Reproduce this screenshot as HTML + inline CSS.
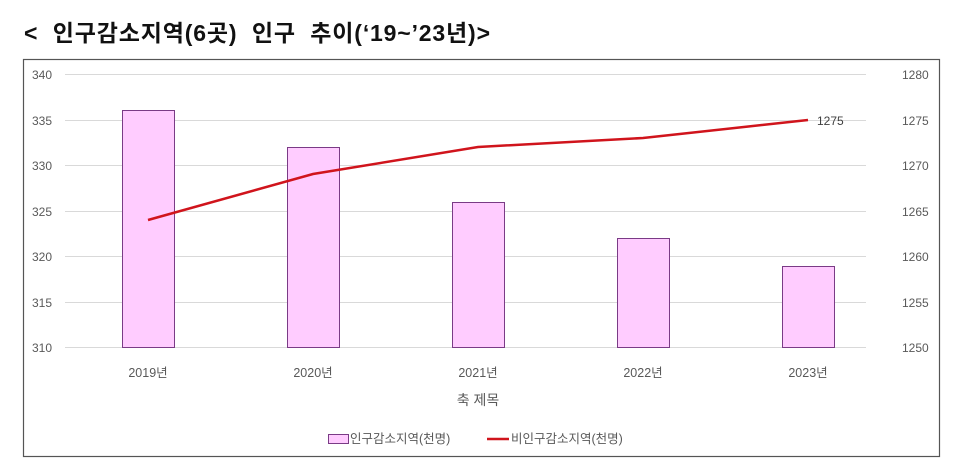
<!DOCTYPE html>
<html><head><meta charset="utf-8"><style>
body{margin:0;background:#fff;width:960px;height:465px;overflow:hidden}
</style></head><body>
<svg width="960" height="465" xmlns="http://www.w3.org/2000/svg" font-family="Liberation Sans, Noto Sans CJK KR, sans-serif">
<text x="24" y="41" font-size="23" font-weight="bold" fill="#111" style="white-space:pre" textLength="466" lengthAdjust="spacing">&lt;  인구감소지역(6곳)  인구  추이(‘19~’23년)&gt;</text>
<rect x="23.5" y="59.5" width="916" height="397" fill="#fff" stroke="#555" stroke-width="1.2"/>
<g stroke="#d9d9d9" stroke-width="1">
<line x1="65" x2="866" y1="74.5" y2="74.5"/><line x1="65" x2="866" y1="120.5" y2="120.5"/>
<line x1="65" x2="866" y1="165.5" y2="165.5"/><line x1="65" x2="866" y1="211.5" y2="211.5"/>
<line x1="65" x2="866" y1="256.5" y2="256.5"/><line x1="65" x2="866" y1="302.5" y2="302.5"/>
<line x1="65" x2="866" y1="347.5" y2="347.5"/>
</g>
<g font-size="12" fill="#595959" text-anchor="start">
<text x="32" y="79">340</text><text x="32" y="125">335</text><text x="32" y="170">330</text><text x="32" y="216">325</text><text x="32" y="261">320</text><text x="32" y="307">315</text><text x="32" y="352">310</text>
<text x="902" y="79">1280</text><text x="902" y="125">1275</text><text x="902" y="170">1270</text><text x="902" y="216">1265</text><text x="902" y="261">1260</text><text x="902" y="307">1255</text><text x="902" y="352">1250</text>
</g>
<g fill="#ffccff" stroke="#7a3b86" stroke-width="1">
<rect x="122.5" y="110.5" width="52" height="237"/>
<rect x="287.5" y="147.5" width="52" height="200"/>
<rect x="452.5" y="202.5" width="52" height="145"/>
<rect x="617.5" y="238.5" width="52" height="109"/>
<rect x="782.5" y="266.5" width="52" height="81"/>
</g>
<polyline points="148,220 313,174 478,147 643,138 808,120" fill="none" stroke="#d0141c" stroke-width="2.5"/>
<text x="817" y="125" font-size="12" fill="#404040">1275</text>
<g font-size="12.5" fill="#595959" text-anchor="middle">
<text x="148" y="377">2019년</text><text x="313" y="377">2020년</text><text x="478" y="377">2021년</text><text x="643" y="377">2022년</text><text x="808" y="377">2023년</text>
</g>
<text x="478" y="405" font-size="14" fill="#595959" text-anchor="middle">축 제목</text>
<rect x="328.5" y="434.5" width="20" height="9" fill="#ffccff" stroke="#7a3b86"/>
<text x="350" y="443" font-size="12.5" fill="#595959">인구감소지역(천명)</text>
<line x1="487" x2="509" y1="439" y2="439" stroke="#d0141c" stroke-width="2.5"/>
<text x="511" y="443" font-size="12.5" fill="#595959">비인구감소지역(천명)</text>
</svg>
</body></html>
